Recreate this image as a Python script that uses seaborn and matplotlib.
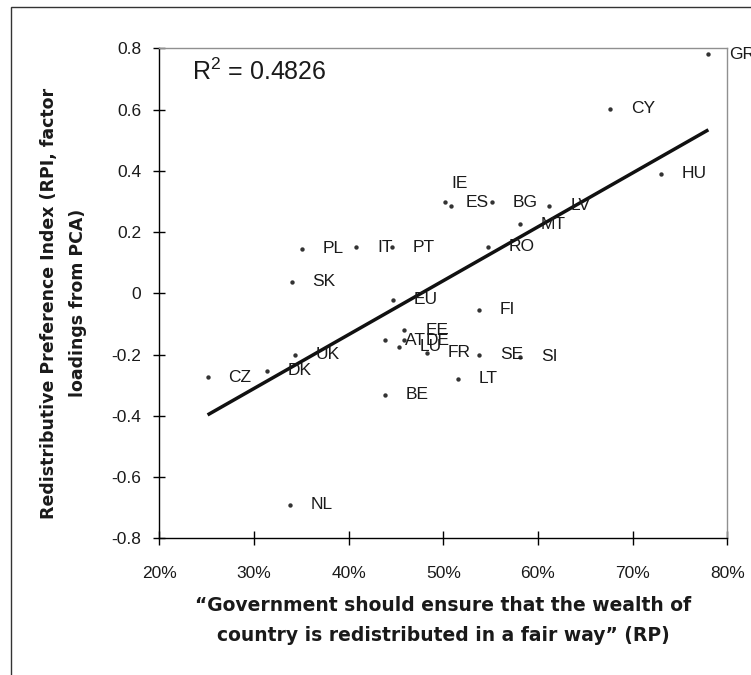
import matplotlib
matplotlib.use("Agg")
import matplotlib.pyplot as plt
import seaborn as sns
import pandas as pd
from matplotlib.patches import Rectangle
from matplotlib.ticker import FuncFormatter, MultipleLocator

countries = ["GR", "CY", "HU", "IE", "ES", "BG", "LV", "MT", "RO", "PL", "IT", "PT",
             "SK", "EU", "FI", "EE", "AT", "DE", "LU", "FR", "SE", "SI", "UK", "DK",
             "CZ", "LT", "BE", "NL"]
rp = [78.0, 67.6, 73.0, 50.8, 50.2, 55.1, 61.2, 58.1, 54.7, 35.1, 40.8, 44.6,
      34.0, 44.7, 53.8, 45.9, 43.8, 45.9, 45.3, 48.3, 53.8, 58.1, 34.3, 31.4,
      25.1, 51.5, 43.8, 33.8]
rpi = [0.781, 0.602, 0.390, 0.286, 0.297, 0.297, 0.286, 0.225, 0.152, 0.146, 0.150, 0.150,
       0.038, -0.021, -0.054, -0.121, -0.153, -0.153, -0.174, -0.194, -0.200, -0.207, -0.200, -0.253,
       -0.274, -0.279, -0.332, -0.691]
r2_text = "R$^2$ = 0.4826"
x_title = "\u201cGovernment should ensure that the wealth of\ncountry is redistributed in a fair way\u201d (RP)"
y_title = "Redistributive Preference Index (RPI, factor\nloadings from PCA)"

df = pd.DataFrame({"country": countries, "rp": rp, "rpi": rpi})

sns.set_theme(style="white")
plt.rcParams["font.family"] = ["Liberation Sans", "DejaVu Sans"]
plt.rcParams["mathtext.fontset"] = "custom"
plt.rcParams["mathtext.rm"] = "Liberation Sans"
plt.rcParams["mathtext.it"] = "Liberation Sans"

W, H = 751, 675
fig = plt.figure(figsize=(W / 100, H / 100), dpi=100)
ax = fig.add_axes([159.3 / W, 1 - 538.3 / H, (727.3 - 159.3) / W, (538.3 - 48.3) / H])

txt = "#1a1a1a"
sns.regplot(data=df, x="rp", y="rpi", ax=ax, ci=None,
            scatter_kws=dict(s=10, color="black", linewidths=0, zorder=3),
            line_kws=dict(color="#111111", lw=2.5, solid_capstyle="butt", zorder=2))

for c, x, y in zip(countries, rp, rpi):
    if c == "IE":
        off = (0.5, 16)
    else:
        off = (15, 0)
    ax.annotate(c, (x, y), xytext=off, textcoords="offset points",
                ha="left", va="center", fontsize=12.5, color=txt,
                annotation_clip=False, zorder=4)

ax.set_xlim(20, 80)
ax.set_ylim(-0.8, 0.8)
ax.xaxis.set_major_locator(MultipleLocator(10))
ax.yaxis.set_major_locator(MultipleLocator(0.2))
ax.xaxis.set_major_formatter(FuncFormatter(lambda v, p: f"{v:.0f}%"))
ax.yaxis.set_major_formatter(FuncFormatter(lambda v, p: "0" if abs(v) < 1e-9 else f"{v:.1f}"))

for s in ["left", "bottom"]:
    ax.spines[s].set_color("black")
    ax.spines[s].set_linewidth(1.0)
for s in ["top", "right"]:
    ax.spines[s].set_color("#909090")
    ax.spines[s].set_linewidth(1.0)

ax.tick_params(axis="y", which="major", direction="inout", length=9, width=1, color="black",
               labelsize=12.5, labelcolor=txt, pad=8.5, left=True)
ax.tick_params(axis="x", which="major", direction="inout", length=10, width=1, color="black",
               labelsize=12.5, labelcolor=txt, pad=15, bottom=True)

ax.set_xlabel(x_title, fontsize=13.5, fontweight="bold", color=txt, linespacing=1.75,
              family="DejaVu Sans")
ax.set_ylabel(y_title, fontsize=12.5, fontweight="bold", color=txt, linespacing=1.8,
              family="DejaVu Sans")
# label anchors in axes fraction (figure pixels -> axes coords)
ax_w, ax_h = 727.3 - 159.3, 538.3 - 48.3
ax.xaxis.set_label_coords((443 - 159.3) / ax_w, (538.3 - 596) / ax_h)
ax.yaxis.set_label_coords((87 - 159.3) / ax_w, (538.3 - 303) / ax_h)

ax.text(192 / W, 1 - 72 / H, r2_text, transform=fig.transFigure, fontsize=18,
        color=txt, ha="left", va="center")

fig.add_artist(Rectangle((10.5 / W, -0.1), 1.2, 1.1 - 7.3 / H, transform=fig.transFigure,
                         fill=False, edgecolor="#333333", lw=1.0))

fig.savefig("out.png", dpi=100)
